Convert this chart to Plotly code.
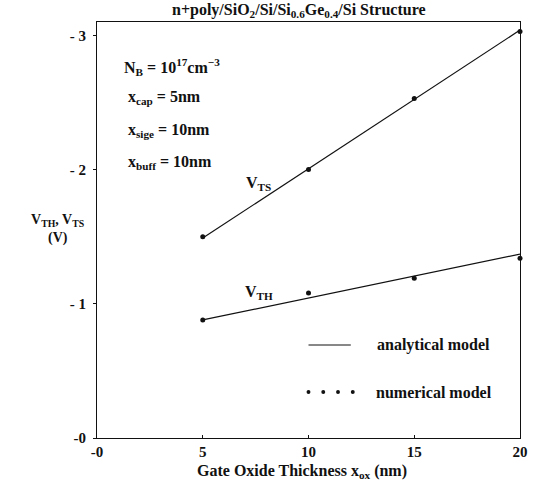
import plotly.graph_objects as go

# Data (values in volts; negative thresholds)
x_model = [5, 20]
vts_model = [-1.49, -3.04]
vth_model = [-0.88, -1.37]

x_num = [5, 10, 15, 20]
vts_num = [-1.50, -2.00, -2.53, -3.03]
vth_num = [-0.88, -1.08, -1.19, -1.34]

x_ticks = [0, 5, 10, 15, 20]
x_ticktext = ["-0", "5", "10", "15", "20"]
y_ticks = [0, -1, -2, -3]
y_ticktext = ["-0", "- 1", "- 2", "- 3"]

FONT = "Liberation Serif"
BLACK = "#111111"

fig = go.Figure()
for ys in (vts_model, vth_model):
    fig.add_trace(go.Scatter(x=x_model, y=ys, mode="lines",
                             line=dict(color=BLACK, width=1.2),
                             showlegend=False, hoverinfo="skip"))
for ys in (vts_num, vth_num):
    fig.add_trace(go.Scatter(x=x_num, y=ys, mode="markers",
                             marker=dict(color=BLACK, size=5),
                             showlegend=False, cliponaxis=False))

L, T, W, H = 97, 22, 430, 416
def pxx(xp): return (xp - L) / W
def pyy(yp): return 1 - (yp - T) / H

ann = []
def px(xp, yp, s, size=16, xanchor="left"):
    ann.append(dict(x=pxx(xp), y=pyy(yp), xref="paper", yref="paper",
                    text="<b>" + s + "</b>", showarrow=False, xanchor=xanchor,
                    yanchor="middle", font=dict(family=FONT, size=size, color=BLACK)))

px(302, 10, "n+poly/SiO<sub>2</sub>/Si/Si<sub>0.6</sub>Ge<sub>0.4</sub>/Si Structure", 16, "center")
px(122, 67, "N<sub>B</sub> = 10<sup>17</sup>cm<sup>−3</sup>", 16)
px(126, 97, "x<sub>cap</sub> = 5nm", 16)
px(126, 130, "x<sub>sige</sub> = 10nm", 16)
px(126, 162, "x<sub>buff</sub> = 10nm", 16)
px(246, 183, "V<sub>TS</sub>", 16)
px(245, 292, "V<sub>TH</sub>", 16)
px(57, 220, "V<sub>TH</sub>, V<sub>TS</sub>", 14, "center")
px(57, 238, "(V)", 14, "center")
px(380, 345, "analytical model", 16)
px(379, 392, "numerical model", 16)
px(305, 471, "Gate Oxide Thickness x<sub>ox</sub> (nm)", 16, "center")

fig.update_layout(annotations=ann)

# legend samples drawn as shapes in paper pixel coordinates
fig.add_shape(type="line", xref="paper", yref="paper",
              x0=pxx(312), x1=pxx(355), y0=pyy(345), y1=pyy(345),
              line=dict(color=BLACK, width=1))
for xd in (312, 327, 342, 357):
    fig.add_shape(type="circle", xref="paper", yref="paper",
                  x0=pxx(xd - 2), x1=pxx(xd + 2), y0=pyy(392 + 2), y1=pyy(392 - 2),
                  fillcolor=BLACK, line=dict(color=BLACK, width=0))

axis_font = dict(family=FONT, size=15, color=BLACK)
fig.update_xaxes(range=[0, 20], tickvals=x_ticks, ticktext=["<b>%s</b>" % t for t in x_ticktext],
                 showline=True, linecolor=BLACK, linewidth=1, mirror=True,
                 ticks="inside", ticklen=3, tickcolor=BLACK, showgrid=False,
                 zeroline=False, tickfont=axis_font)
fig.update_yaxes(range=[0, -3.1], tickvals=y_ticks, ticktext=["<b>%s</b>" % t for t in y_ticktext],
                 showline=True, linecolor=BLACK, linewidth=1, mirror=True,
                 ticks="outside", ticklen=3, tickcolor=BLACK, showgrid=False,
                 zeroline=False, tickfont=axis_font, ticklabelstandoff=4)

fig.update_layout(width=540, height=485,
                  margin=dict(l=97, r=13, t=22, b=47),
                  paper_bgcolor="white", plot_bgcolor="white",
                  showlegend=False)

fig.write_html("out.html", config={"displayModeBar": False},
               post_script="document.body.style.margin='0';document.body.style.overflow='hidden';")
